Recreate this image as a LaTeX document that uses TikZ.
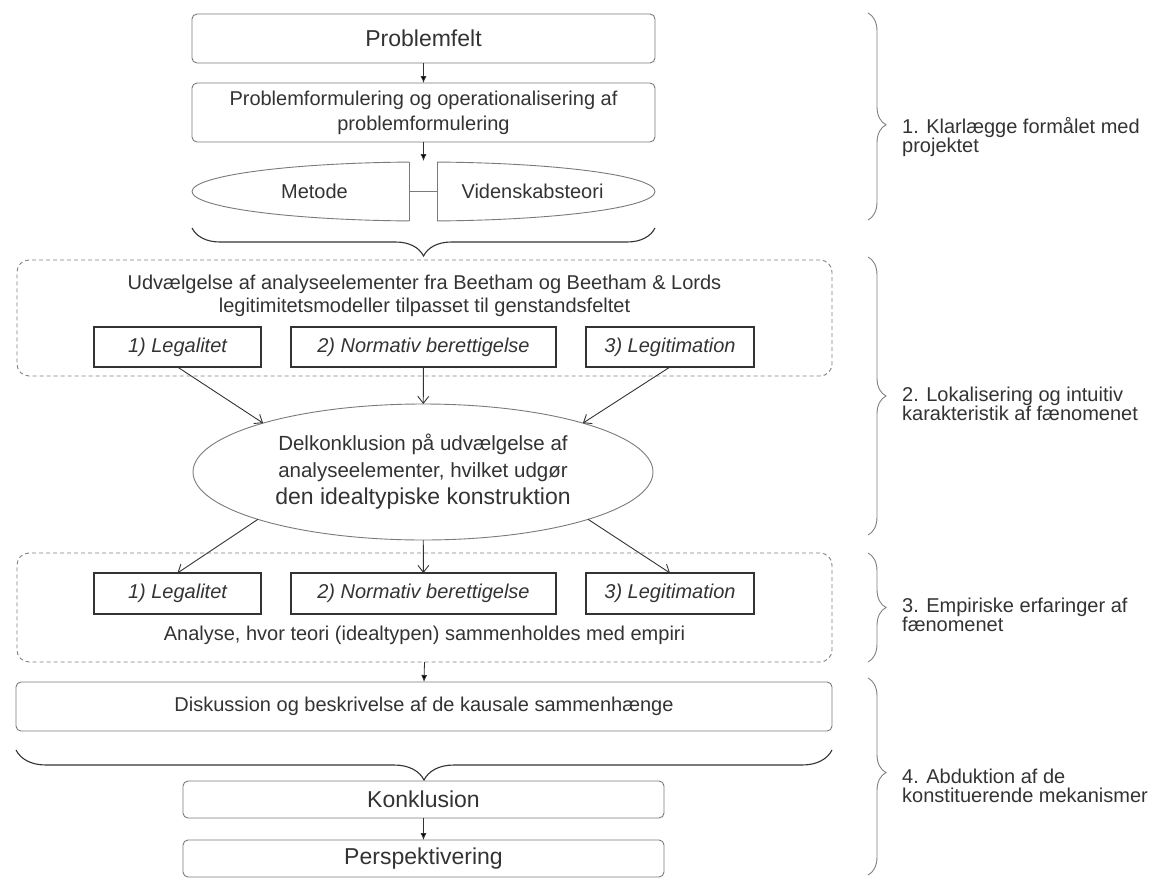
\documentclass[tikz,border=0pt]{standalone}
\usepackage{fontspec}
\setmainfont{Liberation Sans}
\usepackage{tikz}
\usetikzlibrary{arrows.meta,decorations.pathreplacing,shapes.geometric}
\definecolor{inkgray}{HTML}{333333}
\definecolor{boxgray}{HTML}{7A7A7A}

\begin{document}
\begin{tikzpicture}[x=1pt,y=-1pt]
            \tikzset{
            mf box/.style={draw=boxgray,rounded corners=5pt,inner sep=0,outer sep=0,text=inkgray,line width=0.9pt,align=center},
            mf item/.style={draw=inkgray,inner sep=0,outer sep=0,text=inkgray,line width=1.1pt,minimum height=40pt,font=\fontsize{20}{24}\selectfont\itshape},
            mf frame/.style={draw=gray,dash pattern=on 4pt off 3pt,rounded corners=12pt,inner sep=0,outer sep=0,line width=0.9pt},
            mf text/.style={text=inkgray,align=center,inner sep=0},
            mf solid/.style={-{Latex[length=7pt,width=6pt]},line width=0.8pt},
            mf open/.style={-{Straight Barb[length=7pt,width=11pt]},line width=0.9pt},
            mf brace/.style={decorate,draw=inkgray,line width=1.1pt}
            }
            \useasboundingbox (0,0) rectangle (1162,878);

            \node[mf box,minimum width=463pt,minimum height=49pt,font=\fontsize{23}{27}\selectfont] (1) at (423.5,38.5) {Problemfelt};
            \node[mf box,minimum width=463pt,minimum height=59pt,font=\fontsize{20}{25}\selectfont] (2) at (423.5,112.5) {Problemformulering og operationalisering af\\problemformulering};

            % split ellipse
            \begin{scope}
            \clip (150,150) rectangle (409,235);
            \draw[boxgray,line width=0.9pt] (423.5,191.5) ellipse [x radius=231.5pt, y radius=29.5pt];
            \end{scope}
            \begin{scope}
            \clip (437,150) rectangle (700,235);
            \draw[boxgray,line width=0.9pt] (423.5,191.5) ellipse [x radius=231.5pt, y radius=29.5pt];
            \end{scope}
            \draw[boxgray,line width=0.9pt] (409,162.1) -- (409,220.9);
            \draw[boxgray,line width=0.9pt] (437,162.1) -- (437,220.9);
            \node[mf text,font=\fontsize{20}{24}\selectfont] (3a) at (314.5,191.5) {Metode};
            \node[mf text,font=\fontsize{20}{24}\selectfont] (3b) at (532.5,191.5) {Videnskabsteori};
            \coordinate (3l) at (409,191.5);
            \coordinate (3r) at (437,191.5);
            \coordinate (3g) at (423.5,161);

            \node[mf frame,minimum width=815pt,minimum height=116pt] (4) at (424.5,318) {};
            \node[mf text,font=\fontsize{20}{23}\selectfont] (4t) at (424.5,296) {Udvælgelse af analyseelementer fra Beetham og Beetham \& Lords\\legitimitetsmodeller tilpasset til genstandsfeltet};
            \node[mf item,minimum width=167pt] (4a) at (177.5,347) {1) Legalitet};
            \node[mf item,minimum width=265pt] (4b) at (423.5,347) {2) Normativ berettigelse};
            \node[mf item,minimum width=168pt] (4c) at (670,347) {3) Legitimation};

            \node[draw=boxgray,ellipse,line width=0.9pt,minimum width=460pt,minimum height=136pt,inner sep=0,outer sep=0,text=inkgray,align=center,font=\fontsize{20.5}{27}\selectfont] (5) at (423,472) {Delkonklusion på udvælgelse af\\analyseelementer, hvilket udgør\\{\fontsize{23}{27}\selectfont den idealtypiske konstruktion}};

            \node[mf frame,minimum width=815pt,minimum height=109pt] (6) at (424.5,607.5) {};
            \node[mf item,minimum width=167pt,minimum height=41pt] (6a) at (177.5,593.5) {1) Legalitet};
            \node[mf item,minimum width=265pt,minimum height=41pt] (6b) at (423.5,593.5) {2) Normativ berettigelse};
            \node[mf item,minimum width=168pt,minimum height=41pt] (6c) at (670,593.5) {3) Legitimation};
            \node[mf text,font=\fontsize{20}{24}\selectfont] (6t) at (424.5,635) {Analyse, hvor teori (idealtypen) sammenholdes med empiri};

            \node[mf box,minimum width=816pt,minimum height=49pt,font=\fontsize{20}{24}\selectfont] (7) at (424,706.5) {Diskussion og beskrivelse af de kausale sammenhænge};
            \node[mf box,minimum width=481pt,minimum height=37pt,font=\fontsize{23}{27}\selectfont] (8) at (423.5,799.5) {Konklusion};
            \node[mf box,minimum width=481pt,minimum height=37pt,font=\fontsize{23}{27}\selectfont] (9) at (423.5,858.5) {Perspektivering};

            \path[-,draw=inkgray]
            (1) edge[mf solid] (2)
            (2) edge[mf solid] (3g)
            (6.south) edge[mf solid] (7.north)
            (8) edge[mf solid] (9)
            (4a.south) edge[mf open] (5.163)
            (4b) edge[mf open] (5)
            (4c.south) edge[mf open] (5.17)
            (5.196) edge[mf open] (6a.north)
            (5) edge[mf open] (6b)
            (5.344) edge[mf open] (6c.north)
            ;
            \draw[boxgray,line width=0.9pt] (3l) -- (3r);

            % braces
            \draw[mf brace,decoration={brace,amplitude=28pt,mirror}] (192,228) -- (655,228);
            \draw[mf brace,decoration={brace,amplitude=30pt,mirror}] (16,750) -- (832,750);
            \draw[mf brace,draw=gray,line width=0.9pt,decoration={brace,amplitude=18pt,aspect=0.54}] (868,13) -- (868,220);
            \draw[mf brace,draw=gray,line width=0.9pt,decoration={brace,amplitude=18pt}] (868,257) -- (868,535);
            \draw[mf brace,draw=gray,line width=0.9pt,decoration={brace,amplitude=18pt}] (868,553) -- (868,662);
            \draw[mf brace,draw=gray,line width=0.9pt,decoration={brace,amplitude=18pt,aspect=0.48}] (868,678) -- (868,875);

            \node[mf text,anchor=west,align=left,font=\fontsize{20}{19}\selectfont] (p1) at (902,137.5) {1. Klarlægge formålet med\\projektet};
            \node[mf text,anchor=west,align=left,font=\fontsize{20}{19}\selectfont] (p2) at (902,404) {2. Lokalisering og intuitiv\\karakteristik af fænomenet};
            \node[mf text,anchor=west,align=left,font=\fontsize{20}{19}\selectfont] (p3) at (902,615) {3. Empiriske erfaringer af\\fænomenet};
            \node[mf text,anchor=west,align=left,font=\fontsize{20}{19}\selectfont] (p4) at (902,786) {4. Abduktion af de\\konstituerende mekanismer};
        \end{tikzpicture}
\end{document}
